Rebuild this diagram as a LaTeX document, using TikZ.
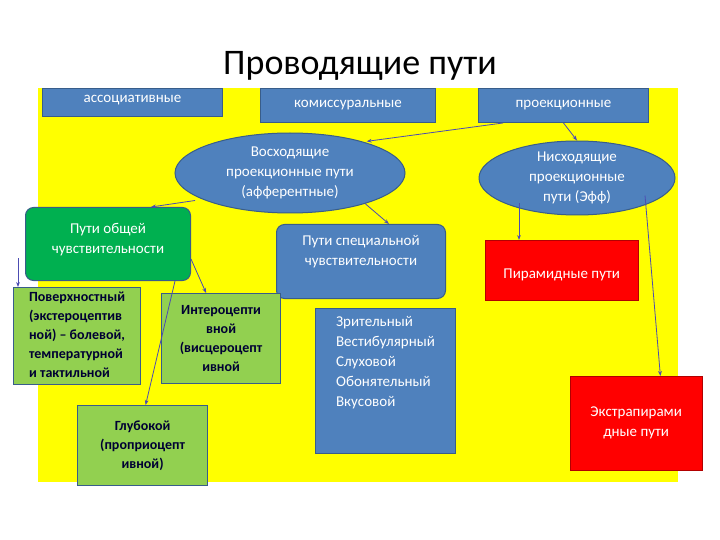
\documentclass[tikz,border=0pt]{standalone}
\usepackage{fontspec}
\setmainfont{Carlito}
\usetikzlibrary{shapes.geometric,arrows.meta}
\definecolor{bblue}{HTML}{4F81BD}
\definecolor{bedge}{HTML}{385D8A}
\definecolor{dgreen}{HTML}{00B050}
\definecolor{lgreen}{HTML}{92D050}
\definecolor{yel}{HTML}{FFFF00}
\tikzset{
 bx/.style={draw=bedge,line width=1pt,fill=bblue,text=white,font=\fontsize{15}{20}\selectfont,align=center,inner sep=2pt},
 gb/.style={draw=bedge,line width=1.2pt,fill=lgreen,text=black!80!blue,font=\bfseries\fontsize{14}{19}\selectfont,align=center,inner sep=1pt},
 rb/.style={draw=red!70!black,fill=red,text=white,font=\fontsize{15}{20}\selectfont,align=center},
 ar/.style={draw=gray!60!blue,line width=0.8pt,-{Stealth[length=5pt]}}
}
\begin{document}
\begin{tikzpicture}[x=1pt,y=-1pt]
\useasboundingbox (0,0) rectangle (720,540);
\fill[white] (0,0) rectangle (720,540);
\fill[yel] (38,88) rectangle (678,482);
\node[font=\fontsize{36}{40}\selectfont] (title) at (360,66) {Проводящие пути};
\node[bx,minimum width=180,minimum height=28,anchor=north west,text depth=8] (as) at (42,88) {ассоциативные};
\node[bx,minimum width=175,minimum height=34,anchor=north west] (ko) at (260,88) {комиссуральные};
\node[bx,minimum width=170,minimum height=34,anchor=north west] (pr) at (478,88) {проекционные};
\node[bx,ellipse,minimum width=230,minimum height=80,inner sep=0pt] (vo) at (290,173) {Восходящие\\проекционные пути\\(афферентные)};
\node[bx,ellipse,minimum width=196,minimum height=74,inner sep=0pt] (ni) at (577,178) {Нисходящие\\проекционные\\пути (Эфф)};
\node[bx,draw=bedge,fill=dgreen,rounded corners=8,minimum width=165,minimum height=73,anchor=north west,text depth=12] (ob) at (25,207) {Пути общей\\чувствительности};
\node[bx,rounded corners=8,minimum width=169,minimum height=74,anchor=north west,text depth=22] (sp) at (276,224) {Пути специальной\\чувствительности};
\node[rb,minimum width=153,minimum height=60,anchor=north west] (pi) at (485,240) {\\Пирамидные пути};
\node[gb,minimum width=127,minimum height=95,anchor=north west] (po) at (13,287) {\begin{tabular}{@{}l@{}}Поверхностный\\(экстероцептив\\ной) – болевой,\\температурной\\и тактильной\end{tabular}};
\node[gb,minimum width=119,minimum height=90,anchor=north west] (in) at (161,293) {Интероцепти\\вной\\(висцероцепт\\ивной};
\node[gb,minimum width=130,minimum height=80,anchor=north west] (gl) at (77,405) {Глубокой\\(проприоцепт\\ивной)};
\node[bx,minimum width=140,minimum height=145,anchor=north west,align=left,text depth=40] (zr) at (315,308) {Зрительный\\Вестибулярный\\Слуховой\\Обонятельный\\Вкусовой};
\node[rb,minimum width=132,minimum height=94,anchor=north west] (ex) at (570,376) {Экстрапирами\\дные пути};
\coordinate (c1) at (18,258);
\draw[ar] ([xshift=25]pr.south west) -- ([xshift=-5,yshift=3]vo.north east);
\draw[ar] (pr.south) -- (ni.north);
\draw[ar] ([xshift=-95,yshift=13]vo.south) -- ([xshift=-40]ob.north east);
\draw[ar] ([xshift=75,yshift=10]vo.south) -- ([xshift=-57]sp.north east);
\draw[ar] (c1) -- ([xshift=5]po.north west);
\draw[ar] ([xshift=67]ob.south) -- ([xshift=3]gl.north);
\draw[ar] ([yshift=-15]ob.east) -- ([xshift=-15]in.north);
\draw[ar] ([xshift=-58,yshift=12]ni.south) -- ([xshift=34]pi.north west);
\draw[ar] ([xshift=68,yshift=20]ni.south) -- ([xshift=-42]ex.north east);
\end{tikzpicture}
\end{document}
